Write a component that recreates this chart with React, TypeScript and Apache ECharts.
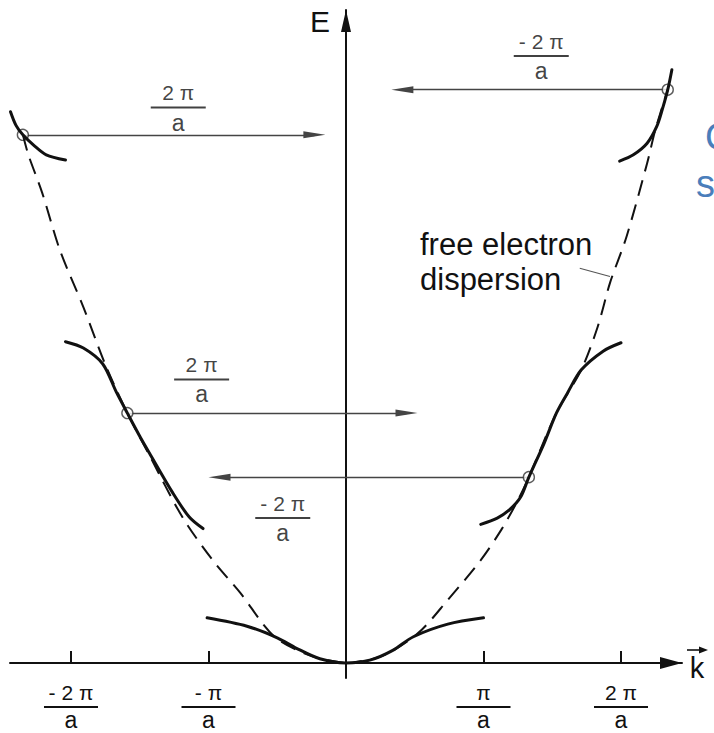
import React, { useEffect, useRef } from 'react';
import * as echarts from 'echarts';

type Pt = [number, number];

// k is measured in units of π/a, E in arbitrary energy units
const K_MIN = -2.4436;
const K_MAX = 2.4436;
const E_MIN = -0.143;
const E_MAX = 6.219;

const kTicks = [-2, -1, 1, 2];
const kTickNumerators = ['- 2 π', '- π', 'π', '2 π'];

// lowest band, first zone
const band1: Pt[] = [
  [-1.01, 0.43], [-0.72, 0.35], [-0.5, 0.24], [-0.36, 0.14], [-0.19, 0.04], [0, 0],
  [0.18, 0.03], [0.34, 0.12], [0.49, 0.25], [0.74, 0.37], [1.0, 0.43],
];

// second band, left and right halves of the second zone
const band2Left: Pt[] = [
  [-2.04, 3.06], [-1.91, 3.0], [-1.77, 2.85], [-1.67, 2.58], [-1.59, 2.38],
  [-1.5, 2.16], [-1.43, 2.0], [-1.26, 1.62], [-1.14, 1.39], [-1.04, 1.28],
];
const band2Right: Pt[] = [
  [0.98, 1.32], [1.1, 1.38], [1.19, 1.46], [1.27, 1.58], [1.33, 1.77], [1.44, 2.09],
  [1.53, 2.38], [1.61, 2.57], [1.71, 2.79], [1.87, 2.97], [2.0, 3.05],
];

// beginning of the third band
const band3Left: Pt[] = [
  [-2.44, 5.25], [-2.4, 5.12], [-2.35, 5.03], [-2.27, 4.93], [-2.18, 4.84], [-2.04, 4.79],
];
const band3Right: Pt[] = [
  [1.99, 4.78], [2.09, 4.84], [2.19, 4.95], [2.26, 5.11], [2.3, 5.27], [2.34, 5.46], [2.37, 5.65],
];

// free electron parabola
const freeLeft: Pt[] = [
  [-2.35, 5.03], [-2.31, 4.84], [-2.21, 4.48], [-2.08, 3.93], [-1.91, 3.39], [-1.75, 2.84],
  [-1.59, 2.38], [-1.43, 1.98], [-1.19, 1.39], [-0.97, 0.98], [-0.77, 0.67], [-0.52, 0.25],
  [-0.24, 0.06], [0, 0],
];
const freeRight: Pt[] = [
  [0, 0], [0.25, 0.06], [0.52, 0.28], [0.74, 0.6], [0.98, 0.98], [1.13, 1.27], [1.25, 1.55],
  [1.33, 1.77], [1.53, 2.38], [1.71, 2.79], [1.83, 3.2], [1.92, 3.62], [2.04, 4.06],
  [2.19, 4.76], [2.25, 5.08], [2.34, 5.46],
];

// marked states and where their reciprocal-lattice shift ends
const crossings: Pt[] = [[-2.35, 5.03], [-1.59, 2.38], [1.33, 1.77], [2.34, 5.46]];
const shiftTipK = [-0.15, 0.52, -1.0, 0.33];

// shift labels: position of the fraction bar and its numerator
const shiftLabelK = [-1.22, -1.05, -0.46, 1.42];
const shiftLabelE = [5.29, 2.7, 1.38, 5.78];
const shiftLabelNum = ['2 π', '2 π', '- 2 π', '- 2 π'];

const leader: Pt[] = [[1.7, 3.76], [1.92, 3.68]];

const FONT = '"Liberation Sans", Arial, Helvetica, sans-serif';
const INK = '#111';
const GRID_LEFT = 10;
const GRID_WIDTH = 672;
const PX_PER_K = GRID_WIDTH / (K_MAX - K_MIN);
const HEAD_LEN = 22;

const fracRich = (barWidth: number, denomLineHeight: number) => ({
  n: { fontSize: 21, lineHeight: 26, align: 'center', color: INK, fontFamily: FONT },
  b: { width: barWidth, height: 2, lineHeight: 4, backgroundColor: INK, align: 'center' },
  d: { fontSize: 23, lineHeight: denomLineHeight, align: 'center', color: INK, fontFamily: FONT },
});

const curve = (data: Pt[], dashed = false) => ({
  type: 'line',
  data,
  showSymbol: false,
  smooth: 0.3,
  clip: false,
  silent: true,
  z: dashed ? 4 : 5,
  lineStyle: dashed
    ? { color: INK, width: 2, type: [16, 9] }
    : { color: INK, width: 3, cap: 'round' },
});

export default function App() {
  const ref = useRef<HTMLDivElement>(null);

  useEffect(() => {
    if (!ref.current) return;
    const chart = echarts.init(ref.current, undefined, { renderer: 'svg' });

    const arrows = crossings.map(([k, e], i) => {
      const dir = Math.sign(shiftTipK[i] - k);
      const end = shiftTipK[i] - dir * (HEAD_LEN / 2) / PX_PER_K;
      return { coords: [[k, e], [end, e]] };
    });

    const labelPoints = shiftLabelK.map((k, i) => [k, shiftLabelE[i], shiftLabelNum[i]]);

    chart.setOption({
      animation: false,
      grid: {
        left: GRID_LEFT,
        width: GRID_WIDTH,
        top: 10,
        bottom: 55,
        containLabel: false,
        outerBoundsMode: 'none',
      },
      xAxis: {
        type: 'value',
        min: K_MIN,
        max: K_MAX,
        splitLine: { show: false },
        axisLine: {
          onZero: true,
          lineStyle: { color: INK, width: 2 },
          symbol: ['none', 'triangle'],
          symbolSize: [12, HEAD_LEN],
          symbolOffset: [0, -HEAD_LEN / 2],
        },
        axisTick: {
          show: true,
          customValues: kTicks,
          inside: true,
          length: 12,
          lineStyle: { color: INK, width: 2 },
        },
        axisLabel: {
          show: true,
          customValues: kTicks,
          margin: 1,
          formatter: (v: number) => {
            const i = kTicks.indexOf(Math.round(v));
            return `{n|${kTickNumerators[i]}}\n{b| }\n{d|a}`;
          },
          rich: fracRich(54, 22),
        },
      },
      yAxis: {
        type: 'value',
        min: E_MIN,
        max: E_MAX,
        splitLine: { show: false },
        axisTick: { show: false },
        axisLabel: { show: false },
        axisLine: {
          onZero: true,
          lineStyle: { color: INK, width: 2 },
          symbol: ['none', 'triangle'],
          symbolSize: [10, HEAD_LEN],
          symbolOffset: [0, -HEAD_LEN / 2],
        },
      },
      series: [
        {
          type: 'lines',
          coordinateSystem: 'cartesian2d',
          silent: true,
          z: 2,
          symbol: ['none', 'triangle'],
          symbolSize: [[7, HEAD_LEN], [7, HEAD_LEN]],
          lineStyle: { color: '#444', width: 1.4, opacity: 1 },
          data: arrows,
        },
        {
          type: 'lines',
          coordinateSystem: 'cartesian2d',
          silent: true,
          z: 2,
          symbol: ['none', 'none'],
          lineStyle: { color: '#555', width: 1.1, opacity: 1 },
          data: [{ coords: leader }],
        },
        {
          type: 'scatter',
          silent: true,
          z: 3,
          symbol: 'circle',
          symbolSize: 11,
          itemStyle: { color: '#fff', borderColor: '#333', borderWidth: 1.4 },
          data: crossings,
        },
        curve(freeLeft, true),
        curve(freeRight, true),
        curve(band1),
        curve(band2Left),
        curve(band2Right),
        curve(band3Left),
        curve(band3Right),
        {
          type: 'scatter',
          silent: true,
          z: 6,
          symbolSize: 1,
          itemStyle: { color: 'rgba(0,0,0,0)' },
          data: labelPoints,
          label: {
            show: true,
            position: 'inside',
            formatter: (p: any) => `{n|${p.data[2]}}\n{b| }\n{d|a}`,
            rich: fracRich(55, 26),
          },
        },
      ],
      graphic: [
        {
          type: 'text',
          x: 320,
          y: 21,
          style: { text: 'E', font: `30px ${FONT}`, fill: INK, textAlign: 'center', textVerticalAlign: 'middle' },
        },
        {
          type: 'text',
          x: 697,
          y: 668,
          style: { text: 'k', font: `29px ${FONT}`, fill: INK, textAlign: 'center', textVerticalAlign: 'middle' },
        },
        {
          type: 'line',
          shape: { x1: 687, y1: 650, x2: 701, y2: 650 },
          style: { stroke: INK, lineWidth: 1.6 },
        },
        {
          type: 'polygon',
          shape: { points: [[699, 646.5], [708, 650], [699, 653.5]] },
          style: { fill: INK },
        },
        {
          type: 'text',
          x: 420,
          y: 262,
          style: {
            text: 'free electron\ndispersion',
            font: `31px ${FONT}`,
            lineHeight: 35,
            fill: INK,
            textAlign: 'left',
            textVerticalAlign: 'middle',
          },
        },
        {
          type: 'text',
          x: 705,
          y: 137,
          style: { text: 'C', font: `38px ${FONT}`, fill: '#4a7ebb', textAlign: 'left', textVerticalAlign: 'middle' },
        },
        {
          type: 'text',
          x: 696,
          y: 184,
          style: { text: 's', font: `38px ${FONT}`, fill: '#4a7ebb', textAlign: 'left', textVerticalAlign: 'middle' },
        },
      ],
    });

    return () => chart.dispose();
  }, []);

  return (
    <div
      ref={ref}
      style={{ position: 'absolute', left: 0, top: 0, width: 714, height: 733, background: '#fff' }}
    />
  );
}
